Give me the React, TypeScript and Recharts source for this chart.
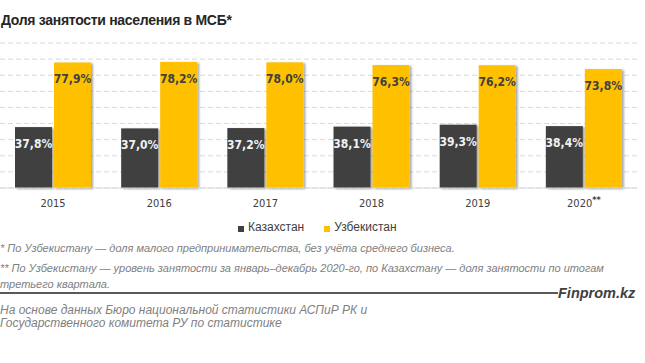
import React from "react";
import { BarChart, Bar, XAxis, YAxis, CartesianGrid, LabelList } from "recharts";

const years = ["2015", "2016", "2017", "2018", "2019", "2020**"];
const kazakhstan = [37.8, 37.0, 37.2, 38.1, 39.3, 38.4];
const uzbekistan = [77.9, 78.2, 78.0, 76.3, 76.2, 73.8];
const yTicks = [0, 10, 20, 30, 40, 50, 60, 70, 80, 90];

const seriesNames = ["Казахстан", "Узбекистан"];
const seriesColors = ["#404040", "#FFC000"];

const data = years.map((y, i) => ({ year: y, kz: kazakhstan[i], uz: uzbekistan[i] }));

const fmt = (v: number) => v.toFixed(1).replace(".", ",") + "%";

const labelFont = "'Liberation Sans Narrow', 'Arial Narrow', 'DejaVu Sans Condensed', sans-serif";

const makeLabel = (color: string) => (props: any) => {
  const { x, y, width, value } = props;
  return (
    <text
      x={Number(x) + Number(width) / 2}
      y={Number(y) + 17}
      textAnchor="middle"
      dominantBaseline="central"
      fill={color}
      fontSize={12}
      fontWeight={700}
      fontFamily={labelFont}
    >
      {fmt(Number(value))}
    </text>
  );
};

const ShadowBar = (props: any) => {
  const { x, y, width, height, fill } = props;
  return <rect x={x} y={y} width={width} height={height} fill={fill} filter="url(#barShadow)" />;
};

const YearTick = (props: any) => {
  const { x, y, payload } = props;
  const s: string = String(payload.value);
  const m = s.match(/^([^*]*)(\**)$/);
  const main = m ? m[1] : s;
  const stars = m ? m[2] : "";
  return (
    <text x={x} y={y + 11} textAnchor="middle" fill="#404040" fontSize={11} fontFamily={labelFont}>
      {main}
      {stars ? (
        <tspan dy={-4} fontSize={9} fontWeight={700}>
          {stars}
        </tspan>
      ) : null}
    </text>
  );
};

export default function App() {
  const abs: React.CSSProperties = { position: "absolute", whiteSpace: "nowrap" };
  return (
    <div style={{ position: "absolute", left: 0, top: 0, width: 645, height: 363, background: "#fff", overflow: "hidden", fontFamily: "'Liberation Sans', Arial, sans-serif" }}>
      <div style={{ ...abs, left: 1, top: 11, fontSize: 14, fontWeight: 700, color: "#262626", lineHeight: "18px", letterSpacing: -0.3 }}>
        Доля занятости населения в МСБ*
      </div>
      <div style={{ position: "absolute", left: 0, top: 0 }}>
        <BarChart width={645} height={240} data={data} margin={{ top: 43, right: 8, left: 0, bottom: 22 }} barGap={2} barSize={37}>
          <defs>
            <filter id="barShadow" x="-20%" y="-5%" width="150%" height="115%">
              <feDropShadow dx={2} dy={1} stdDeviation={1.2} floodColor="#000" floodOpacity={0.35} />
            </filter>
          </defs>
          <CartesianGrid vertical={false} stroke="#d9d9d9" strokeDasharray="5 3" />
          <XAxis dataKey="year" axisLine={{ stroke: "#d9d9d9" }} tickLine={false} tick={<YearTick />} interval={0} />
          <YAxis hide domain={[0, 90]} ticks={yTicks} interval={0} />
          <Bar dataKey="kz" fill={seriesColors[0]} isAnimationActive={false} shape={<ShadowBar />}>
            <LabelList dataKey="kz" content={makeLabel("#f2f2f2")} />
          </Bar>
          <Bar dataKey="uz" fill={seriesColors[1]} isAnimationActive={false} shape={<ShadowBar />}>
            <LabelList dataKey="uz" content={makeLabel("#404040")} />
          </Bar>
        </BarChart>
      </div>
      <div style={{ ...abs, left: 238, top: 219, display: "flex", alignItems: "center", fontSize: 12, color: "#404040", lineHeight: "16px" }}>
        {seriesNames.map((n, i) => (
          <span key={n} style={{ display: "flex", alignItems: "center", marginRight: i === 0 ? 20 : 0 }}>
            <span style={{ display: "inline-block", width: 6, height: 6, background: seriesColors[i], marginRight: 4, marginTop: 3 }} />
            {n}
          </span>
        ))}
      </div>
      <div style={{ ...abs, left: 0, top: 241, fontSize: 11, fontStyle: "italic", color: "#808080", lineHeight: "14px" }}>
        * По Узбекистану — доля малого предпринимательства, без учёта среднего бизнеса.
      </div>
      <div style={{ ...abs, left: 0, top: 260, fontSize: 11, fontStyle: "italic", color: "#808080", lineHeight: "16px" }}>
        ** По Узбекистану — уровень занятости за январь–декабрь 2020-го, по Казахстану — доля занятости по итогам
        <br />
        третьего квартала.
      </div>
      <div style={{ position: "absolute", left: 0, top: 292, width: 558, height: 2, background: "#595959" }} />
      <div style={{ ...abs, left: 558, top: 284, fontSize: 14.5, fontStyle: "italic", fontWeight: 700, color: "#404040", lineHeight: "18px" }}>
        Finprom.kz
      </div>
      <div style={{ ...abs, left: 0, top: 304, fontSize: 12, fontStyle: "italic", color: "#808080", lineHeight: "13px" }}>
        На основе данных  Бюро национальной  статистики АСПиР РК и
        <br />
        Государственного  комитета РУ по статистике
      </div>
    </div>
  );
}
